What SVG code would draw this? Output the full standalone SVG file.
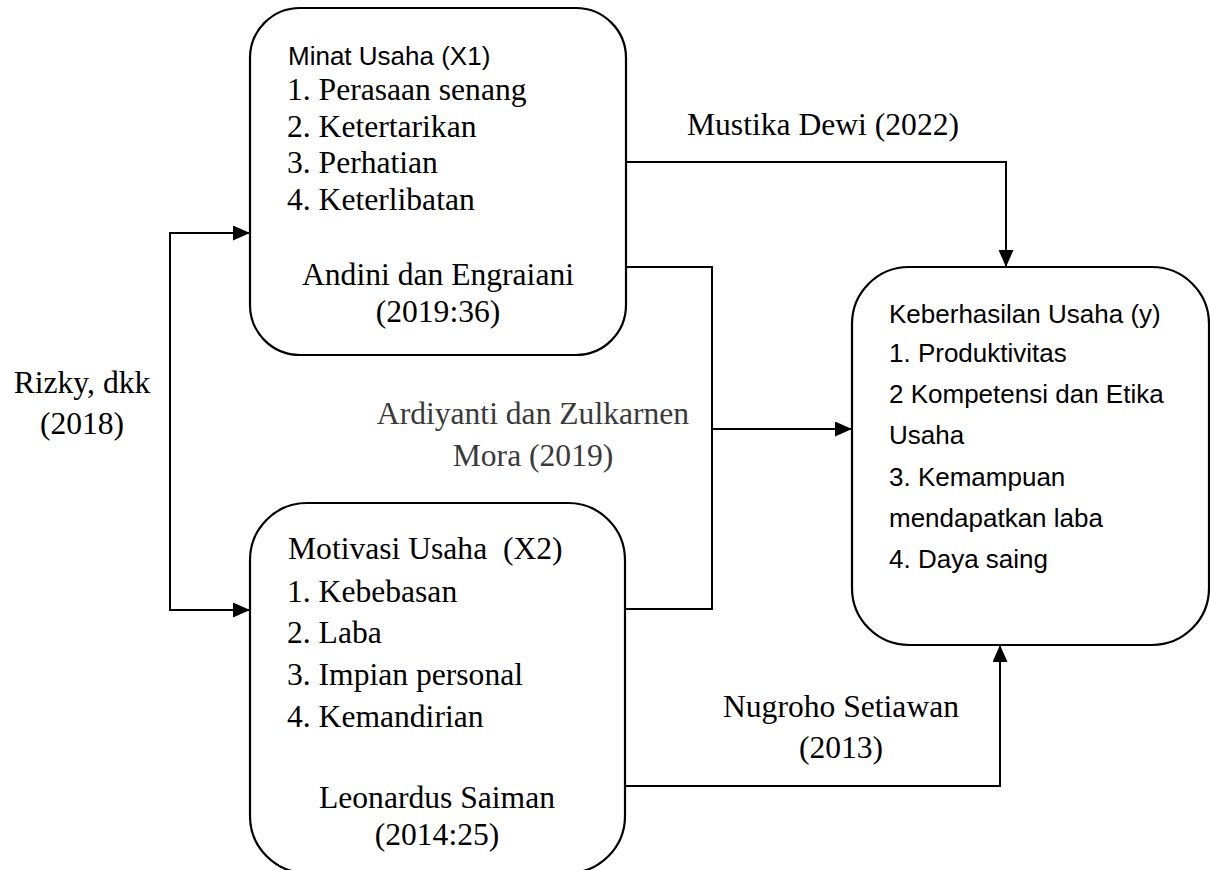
<svg xmlns="http://www.w3.org/2000/svg" width="1210" height="870" viewBox="0 0 1210 870">
<style>
.box{fill:#fff;stroke:#000;stroke-width:2.2}
.conn{fill:none;stroke:#000;stroke-width:2}
.serif{font-family:"Liberation Serif","Times New Roman",serif;font-size:31.6px;fill:#000}
.sans{font-family:"Liberation Sans",Arial,sans-serif;font-size:26px;fill:#000}
.gray{fill:#3a3a3a}
.mid{text-anchor:middle}
</style>
<defs>
<marker id="arrow" markerUnits="userSpaceOnUse" markerWidth="18" markerHeight="16" refX="17" refY="7.5" orient="auto-start-reverse" viewBox="0 0 18 16">
<path d="M0,0 L17,7.5 L0,15 z" fill="#000"/>
</marker>
</defs>
<rect width="1210" height="870" fill="#fff"/>
<g id="connectors">
<path class="conn" d="M250,233 H170 V610 H250" marker-start="url(#arrow)" marker-end="url(#arrow)"/>
<path class="conn" d="M626,162 H1006 V267" marker-end="url(#arrow)"/>
<path class="conn" d="M626,267 H712 V609 H625"/>
<path class="conn" d="M712,429 H852" marker-end="url(#arrow)"/>
<path class="conn" d="M625,786 H1000 V645" marker-end="url(#arrow)"/>
</g>
<g id="node-minat">
<rect class="box" x="250" y="8" width="376" height="347" rx="50" ry="50"/>
<text class="sans" x="288" y="65">Minat Usaha (X1)</text>
<text class="serif" x="287" y="100">1. Perasaan senang</text>
<text class="serif" x="287" y="137">2. Ketertarikan</text>
<text class="serif" x="287" y="173">3. Perhatian</text>
<text class="serif" x="287" y="210">4. Keterlibatan</text>
<text class="serif mid" x="438" y="285">Andini dan Engraiani</text>
<text class="serif mid" x="438" y="322">(2019:36)</text>
</g>
<g id="node-motivasi">
<rect class="box" x="250" y="503" width="375" height="370" rx="57" ry="57"/>
<text class="serif" x="288" y="559" xml:space="preserve">Motivasi Usaha  (X2)</text>
<text class="serif" x="287" y="602">1. Kebebasan</text>
<text class="serif" x="287" y="643">2. Laba</text>
<text class="serif" x="287" y="685">3. Impian personal</text>
<text class="serif" x="287" y="727">4. Kemandirian</text>
<text class="serif mid" x="437" y="808">Leonardus Saiman</text>
<text class="serif mid" x="437" y="845">(2014:25)</text>
</g>
<g id="node-keberhasilan">
<rect class="box" x="852" y="267" width="357" height="378" rx="57" ry="57"/>
<text class="sans" x="889" y="323">Keberhasilan Usaha (y)</text>
<text class="sans" x="889" y="362">1. Produktivitas</text>
<text class="sans" x="889" y="403">2 Kompetensi dan Etika</text>
<text class="sans" x="889" y="444">Usaha</text>
<text class="sans" x="889" y="486">3. Kemampuan</text>
<text class="sans" x="889" y="527">mendapatkan laba</text>
<text class="sans" x="889" y="568">4. Daya saing</text>
</g>
<g id="labels">
<text class="serif mid" x="823" y="135">Mustika Dewi (2022)</text>
<text class="serif mid gray" x="533" y="424">Ardiyanti dan Zulkarnen</text>
<text class="serif mid gray" x="533" y="466">Mora (2019)</text>
<text class="serif mid" x="82" y="393">Rizky, dkk</text>
<text class="serif mid" x="82" y="434">(2018)</text>
<text class="serif mid" x="841" y="717">Nugroho Setiawan</text>
<text class="serif mid" x="841" y="758">(2013)</text>
</g>
</svg>
